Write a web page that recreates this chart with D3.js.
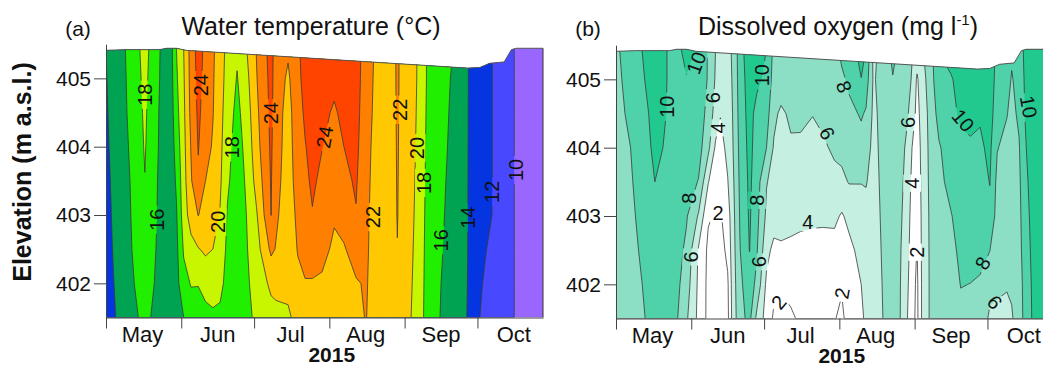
<!DOCTYPE html>
<html>
<head>
<meta charset="utf-8">
<script src="https://cdn.jsdelivr.net/npm/d3@7"></script>
<style>
  body { margin: 0; background: #fff; }
  svg { display: block; font-family: "Liberation Sans", Arial, sans-serif; }
</style>
</head>
<body>
<svg id="chart" width="1043" height="367"></svg>
<script>
// elevation of each profile row (m a.s.l.), top to bottom
const elevations = [405.45, 405, 404.5, 404, 403.5, 403, 402.5, 402, 401.5];

// water surface
const surfaceDates = ['2015-05-01', '2015-05-09', '2015-05-23', '2015-05-26', '2015-05-30', '2015-06-03',
  '2015-09-27', '2015-10-02', '2015-10-06', '2015-10-12', '2015-10-15', '2015-10-17', '2015-10-28'];
const surfaceElev = [405.41, 405.42, 405.42, 405.44, 405.44, 405.41,
  405.15, 405.16, 405.22, 405.24, 405.42, 405.44, 405.44];

// month ticks
const monthStarts = ['2015-05-01', '2015-06-01', '2015-07-01', '2015-08-01', '2015-09-01', '2015-10-01'];
const yTicks = [402, 403, 404, 405];

// (a) water temperature profiles, one per date, values follow `elevations`
const tempDates = ['2015-05-01', '2015-05-09', '2015-05-17', '2015-05-27', '2015-05-30', '2015-06-02',
  '2015-06-05', '2015-06-08', '2015-06-11', '2015-06-14', '2015-06-17', '2015-06-20', '2015-06-24',
  '2015-06-28', '2015-07-02', '2015-07-08', '2015-07-10', '2015-07-15', '2015-07-19', '2015-07-22',
  '2015-07-25', '2015-07-29', '2015-08-03', '2015-08-07', '2015-08-12', '2015-08-16', '2015-08-21',
  '2015-08-27', '2015-08-29', '2015-09-01', '2015-09-06', '2015-09-10', '2015-09-16', '2015-09-21',
  '2015-09-27', '2015-10-02', '2015-10-07', '2015-10-12', '2015-10-16', '2015-10-23', '2015-10-28'];
const tempValues = [
  [14.0, 13.9, 13.8, 13.7, 13.6, 13.5, 13.4, 13.3, 13.2],
  [16.0, 15.9, 15.8, 15.6, 15.4, 15.3, 15.2, 15.0, 14.8],
  [18.7, 18.5, 18.3, 18.15, 17.95, 17.8, 17.6, 17.2, 16.6],
  [14.4, 14.4, 14.3, 14.3, 14.2, 14.2, 14.1, 14.1, 14.1],
  [18.0, 17.7, 17.3, 16.8, 16.3, 15.8, 15.5, 15.3, 15.2],
  [20.0, 19.8, 19.6, 19.4, 19.2, 19.0, 18.2, 17.4, 16.0],
  [22.8, 22.7, 22.5, 22.1, 21.8, 20.9, 19.3, 18.1, 17.2],
  [24.8, 24.6, 24.35, 24.1, 23.7, 22.05, 19.9, 18.1, 17.0],
  [23.5, 23.4, 23.2, 22.8, 22.0, 21.3, 20.3, 18.8, 17.3],
  [22.3, 22.2, 22.1, 21.8, 21.4, 20.9, 20.0, 19.0, 17.6],
  [21.0, 20.9, 20.7, 20.5, 20.3, 19.9, 19.2, 18.5, 17.6],
  [19.4, 19.2, 18.9, 18.6, 18.3, 17.85, 17.6, 17.4, 17.2],
  [18.3, 17.9, 17.5, 17.2, 17.0, 16.9, 16.8, 16.7, 16.7],
  [20.0, 19.5, 19.0, 18.6, 18.3, 18.05, 17.9, 17.7, 17.5],
  [22.1, 21.9, 21.6, 21.3, 20.7, 19.8, 19.2, 18.8, 18.4],
  [24.8, 24.6, 24.45, 24.3, 24.15, 24.02, 22.4, 20.4, 19.3],
  [22.9, 23.0, 22.9, 22.8, 22.6, 22.3, 21.9, 20.6, 19.4],
  [22.3, 21.7, 21.3, 21.2, 21.1, 21.0, 20.9, 20.5, 19.7],
  [23.6, 23.4, 23.2, 23.0, 22.8, 22.4, 22.1, 21.6, 20.6],
  [25.0, 24.8, 24.3, 23.9, 23.6, 23.2, 22.6, 21.9, 21.0],
  [25.2, 25.0, 24.8, 24.6, 24.3, 23.9, 22.6, 21.9, 21.2],
  [25.0, 24.8, 24.4, 24.05, 23.6, 23.2, 22.8, 21.6, 21.0],
  [25.0, 24.4, 23.8, 23.4, 23.0, 22.3, 21.5, 21.0, 20.6],
  [25.0, 24.8, 24.4, 24.0, 23.6, 22.9, 21.8, 21.2, 20.8],
  [25.0, 24.9, 24.7, 24.5, 24.2, 23.9, 23.0, 21.8, 21.3],
  [23.0, 22.9, 22.8, 22.6, 22.5, 22.4, 22.3, 22.2, 22.1],
  [21.5, 21.4, 21.3, 21.2, 21.1, 21.0, 21.0, 20.9, 20.8],
  [21.4, 21.3, 21.3, 21.2, 21.2, 21.1, 21.1, 21.0, 20.9],
  [22.3, 22.3, 22.25, 22.2, 22.15, 22.1, 21.95, 21.6, 21.2],
  [21.0, 21.0, 21.0, 20.9, 20.8, 20.7, 20.6, 20.5, 20.4],
  [20.05, 20.0, 19.95, 19.9, 19.85, 19.8, 19.75, 19.7, 19.65],
  [18.0, 18.0, 17.9, 17.8, 17.7, 17.6, 17.5, 17.4, 17.3],
  [17.2, 17.0, 16.9, 16.8, 16.6, 16.4, 16.2, 16.0, 15.9],
  [16.0, 15.7, 15.5, 15.3, 15.1, 15.0, 14.9, 14.8, 14.7],
  [14.05, 14.05, 14.04, 14.03, 14.02, 14.01, 14.0, 13.98, 13.95],
  [13.0, 13.0, 13.0, 12.9, 12.9, 12.8, 12.5, 12.2, 12.0],
  [12.02, 12.02, 12.02, 12.02, 12.02, 12.0, 11.6, 11.3, 11.0],
  [11.0, 11.0, 11.0, 11.0, 11.0, 11.0, 10.9, 10.8, 10.7],
  [10.02, 10.02, 10.02, 10.02, 10.02, 10.02, 10.02, 10.02, 10.02],
  [9.0, 9.0, 9.0, 9.0, 9.0, 9.0, 9.0, 9.0, 9.0],
  [8.8, 8.8, 8.8, 8.8, 8.8, 8.8, 8.8, 8.8, 8.8]
];
const tempThresholds = [10, 12, 14, 16, 18, 20, 22, 24];
const tempColors = ['#9966ff', '#4848ff', '#0535e0', '#00a352', '#20ef00', '#c8f500', '#ffc800', '#ff8000', '#ff4400'];
// [date, elevation, text, angle]
const tempLabels = [
  ['2015-05-17', 404.76, '18', -90], ['2015-06-09', 404.90, '24', -90], ['2015-07-08', 404.49, '24', -90],
  ['2015-07-30', 404.14, '24', -80], ['2015-08-30', 404.54, '22', -90], ['2015-06-22', 403.99, '18', -90],
  ['2015-09-06', 403.98, '20', -90], ['2015-05-22', 402.93, '16', -90], ['2015-06-16', 402.90, '20', -90],
  ['2015-08-19', 402.97, '22', -90], ['2015-09-09', 403.47, '18', -90], ['2015-09-16', 402.63, '16', -90],
  ['2015-09-27', 402.96, '14', -90], ['2015-10-07', 403.34, '12', -90], ['2015-10-17', 403.66, '10', -90]
];

// (b) dissolved oxygen profiles
const oxyDates = ['2015-05-01', '2015-05-07', '2015-05-13', '2015-05-17', '2015-05-22', '2015-05-26',
  '2015-05-30', '2015-06-04', '2015-06-08', '2015-06-11', '2015-06-13', '2015-06-16', '2015-06-18',
  '2015-06-21', '2015-06-25', '2015-06-28', '2015-07-02', '2015-07-05', '2015-07-08', '2015-07-12',
  '2015-07-16', '2015-07-21', '2015-07-25', '2015-07-30', '2015-08-02', '2015-08-05', '2015-08-10',
  '2015-08-12', '2015-08-15', '2015-08-19', '2015-08-23', '2015-08-26', '2015-08-29', '2015-08-31',
  '2015-09-02', '2015-09-04', '2015-09-07', '2015-09-11', '2015-09-16', '2015-09-20', '2015-09-24',
  '2015-09-28', '2015-10-02', '2015-10-05', '2015-10-09', '2015-10-11', '2015-10-14', '2015-10-16',
  '2015-10-20', '2015-10-28'];
const oxyValues = [
  [7.8, 7.7, 7.6, 7.5, 7.4, 7.3, 7.2, 7.1, 7.0],
  [8.6, 8.45, 8.25, 8.0, 7.8, 7.6, 7.4, 7.2, 7.0],
  [10.4, 10.05, 9.6, 9.4, 9.1, 8.8, 8.5, 8.2, 8.0],
  [11.2, 11.0, 10.7, 10.4, 10.0, 9.6, 9.3, 9.0, 8.8],
  [10.0, 10.0, 9.95, 9.8, 9.6, 9.4, 9.2, 9.0, 8.8],
  [9.5, 9.4, 9.3, 9.2, 9.1, 9.0, 8.8, 8.5, 8.2],
  [10.6, 9.9, 9.6, 9.3, 8.9, 8.2, 7.6, 7.0, 6.3],
  [9.8, 9.5, 9.2, 8.8, 7.9, 5.8, 3.8, 3.6, 3.5],
  [7.8, 7.8, 7.3, 6.5, 4.1, 2.2, 1.6, 1.5, 1.5],
  [6.0, 5.8, 5.2, 3.7, 2.6, 1.8, 1.2, 1.0, 1.0],
  [5.2, 5.0, 4.1, 3.3, 2.5, 1.8, 1.2, 1.0, 1.0],
  [5.5, 5.4, 5.0, 4.5, 3.9, 3.0, 2.5, 1.7, 1.5],
  [6.2, 6.1, 6.0, 5.8, 5.5, 5.2, 5.0, 4.8, 4.6],
  [9.0, 8.9, 8.7, 8.5, 8.3, 8.1, 7.9, 7.6, 7.4],
  [11.5, 11.0, 10.8, 10.6, 10.4, 10.25, 10.05, 9.0, 8.5],
  [11.0, 10.5, 9.3, 9.1, 8.9, 8.6, 8.2, 7.5, 5.5],
  [10.0, 9.5, 8.8, 8.0, 6.1, 5.6, 4.6, 3.6, 3.2],
  [7.5, 7.2, 6.5, 5.8, 5.4, 4.9, 3.5, 2.5, 1.7],
  [7.6, 7.3, 5.6, 5.3, 5.1, 4.8, 3.7, 2.2, 1.5],
  [7.4, 7.1, 6.4, 5.7, 5.3, 4.6, 3.6, 2.4, 1.8],
  [7.5, 7.2, 6.5, 5.6, 5.2, 4.5, 3.4, 2.6, 2.2],
  [7.6, 7.3, 6.05, 5.5, 5.1, 4.4, 3.3, 2.5, 2.1],
  [7.5, 7.2, 6.4, 5.7, 5.2, 4.3, 3.4, 2.4, 2.1],
  [7.3, 7.1, 6.8, 6.3, 5.5, 4.4, 3.3, 2.5, 2.1],
  [8.6, 7.6, 6.9, 6.5, 5.6, 3.8, 3.0, 2.2, 1.6],
  [9.0, 8.4, 7.5, 7.0, 6.1, 4.5, 3.5, 3.0, 2.8],
  [10.8, 9.95, 8.2, 7.3, 6.05, 5.3, 4.6, 4.0, 3.4],
  [9.98, 9.0, 7.8, 6.8, 6.1, 5.5, 5.1, 4.8, 4.6],
  [5.5, 5.8, 5.6, 5.5, 5.4, 5.3, 5.2, 5.1, 5.0],
  [6.8, 6.7, 6.6, 6.5, 6.4, 6.3, 6.2, 6.1, 6.02],
  [8.6, 7.9, 7.4, 7.2, 7.0, 6.9, 6.8, 6.6, 6.5],
  [7.6, 7.0, 6.8, 6.7, 6.6, 6.4, 6.2, 6.1, 6.05],
  [7.0, 6.7, 6.2, 5.6, 5.2, 4.9, 4.6, 4.3, 4.05],
  [6.1, 5.8, 5.2, 3.95, 3.5, 3.2, 3.0, 2.8, 2.6],
  [5.4, 3.7, 3.3, 3.0, 2.8, 2.5, 1.9, 1.6, 1.5],
  [5.8, 5.3, 4.8, 4.5, 4.4, 4.3, 4.3, 4.2, 4.2],
  [6.8, 6.6, 6.4, 6.3, 6.2, 6.1, 6.05, 6.02, 6.02],
  [10.05, 9.6, 8.7, 7.8, 7.5, 7.3, 7.2, 7.1, 7.0],
  [11.0, 9.8, 9.5, 9.0, 8.6, 7.9, 7.5, 7.2, 7.0],
  [11.2, 10.8, 10.3, 9.6, 9.2, 8.8, 8.4, 8.05, 7.6],
  [11.3, 11.0, 10.4, 9.8, 9.3, 8.9, 8.5, 7.98, 7.5],
  [11.3, 11.0, 10.2, 9.7, 9.4, 9.1, 8.5, 7.8, 7.4],
  [11.5, 11.2, 10.8, 10.4, 10.05, 9.6, 8.02, 6.7, 5.6],
  [9.4, 9.2, 8.9, 8.1, 7.5, 7.2, 6.9, 6.4, 5.5],
  [9.3, 9.0, 8.1, 7.4, 7.1, 6.9, 6.7, 6.2, 5.3],
  [8.5, 7.8, 7.4, 7.2, 7.0, 6.8, 6.6, 6.3, 5.8],
  [9.3, 9.0, 8.4, 7.8, 7.5, 7.3, 7.2, 7.1, 7.0],
  [10.1, 9.98, 9.9, 9.7, 9.4, 9.1, 8.8, 8.4, 8.3],
  [11.0, 11.0, 11.0, 10.9, 10.8, 10.7, 10.6, 10.5, 10.4],
  [11.2, 11.2, 11.1, 11.1, 11.0, 11.0, 11.0, 10.9, 10.9]
];
const oxyThresholds = [2, 4, 6, 8, 10];
const oxyColors = ['#ffffff', '#ffffff', '#c5efe1', '#8cdec5', '#4fd2a9', '#22c98f'];
const oxyLabels = [
  ['2015-06-03', 405.24, '10', -70], ['2015-05-22', 404.60, '10', -90], ['2015-06-10', 404.73, '6', -90],
  ['2015-06-12', 404.29, '4', -90], ['2015-06-12', 403.04, '2', 0], ['2015-05-31', 403.26, '8', -90],
  ['2015-06-01', 402.40, '6', -90], ['2015-06-30', 405.06, '10', -90], ['2015-06-28', 403.23, '8', -90],
  ['2015-06-29', 402.33, '6', -90], ['2015-07-27', 404.21, '6', 60], ['2015-08-03', 404.89, '8', 70],
  ['2015-07-19', 402.91, '4', 0], ['2015-07-07', 401.74, '2', -50], ['2015-08-02', 401.87, '2', -80],
  ['2015-08-29', 404.37, '6', -90], ['2015-08-31', 403.48, '4', -90], ['2015-09-02', 402.47, '2', -90],
  ['2015-09-21', 404.40, '10', 50], ['2015-09-29', 402.31, '8', -60], ['2015-10-04', 401.74, '6', 50],
  ['2015-10-18', 404.60, '10', 80]
];

const parse = d3.utcParse('%Y-%m-%d');
const svg = d3.select('#chart');
const pxPerMetre = 68.33;
const plotWidth = 437;

function drawPanel(cfg) {
  const x = d3.scaleUtc()
              .domain([parse('2015-05-01'), parse('2015-10-28')])
              .range([cfg.left, cfg.left + plotWidth]);
  const y = d3.scaleLinear()
              .domain([401.5, 405.5])
              .range([cfg.bottom, cfg.bottom - 4 * pxPerMetre]);
  const g = svg.append('g');

  // grid index -> pixel, piecewise along the profile dates / elevations
  const n = cfg.dates.length;
  const m = elevations.length;
  const colX = d3.scaleLinear().domain(d3.range(n)).range(cfg.dates.map(d => x(parse(d)))).clamp(true);
  const rowY = d3.scaleLinear().domain(d3.range(m)).range(elevations.map(y)).clamp(true);
  const grid = new Array(n * m);
  for (let j = 0; j < m; j++) {
    for (let i = 0; i < n; i++) grid[j * n + i] = cfg.values[i][j];
  }
  const contours = d3.contours().size([n, m]).thresholds(cfg.thresholds)(grid);
  const path = d3.geoPath(d3.geoTransform({
    point(px, py) { this.stream.point(colX(px - 0.5), rowY(py - 0.5)); }
  }));

  // water body outline
  const surface = surfaceDates.map((d, i) => [x(parse(d)), y(surfaceElev[i])]);
  const water = surface.concat([[x.range()[1], cfg.bottom], [cfg.left, cfg.bottom]]);
  const clipId = 'clip-' + cfg.id;
  g.append('clipPath').attr('id', clipId)
   .append('path').attr('d', d3.line()(water) + 'Z');

  const body = g.append('g').attr('clip-path', `url(#${clipId})`);
  body.append('rect')
      .attr('x', cfg.left).attr('y', 0)
      .attr('width', plotWidth).attr('height', cfg.bottom)
      .attr('fill', cfg.colors[0]);
  body.selectAll('path.fill')
      .data(contours)
      .enter().append('path')
      .attr('class', 'fill')
      .attr('d', path)
      .attr('fill', (d, i) => cfg.colors[i + 1]);

  // lines, broken under the labels
  const maskId = 'mask-' + cfg.id;
  const mask = g.append('mask').attr('id', maskId).attr('maskUnits', 'userSpaceOnUse')
                .attr('x', 0).attr('y', 0).attr('width', 1043).attr('height', 367);
  mask.append('rect').attr('width', 1043).attr('height', 367).attr('fill', '#fff');
  const fs = 20;
  cfg.labels.forEach(l => {
    const w = l[2].length * fs * 0.56 + 6;
    mask.append('rect')
        .attr('transform', `translate(${x(parse(l[0]))},${y(l[1])}) rotate(${l[3]})`)
        .attr('x', -w / 2).attr('y', -fs * 0.45)
        .attr('width', w).attr('height', fs * 0.9)
        .attr('fill', '#000');
  });
  body.append('g').attr('mask', `url(#${maskId})`)
      .selectAll('path')
      .data(contours)
      .enter().append('path')
      .attr('d', path)
      .attr('fill', 'none')
      .attr('stroke', '#3a3a3a')
      .attr('stroke-width', 0.8);

  g.append('path')
   .attr('d', d3.line()(surface))
   .attr('fill', 'none').attr('stroke', '#555').attr('stroke-width', 1);
  const last = surface[surface.length - 1];
  g.append('path')
   .attr('d', `M${last[0]},${last[1]}V${cfg.bottom}`)
   .attr('stroke', '#333').attr('stroke-width', 1);

  g.selectAll('text.clab')
   .data(cfg.labels)
   .enter().append('text')
   .attr('class', 'clab')
   .attr('transform', d => `translate(${x(parse(d[0]))},${y(d[1])}) rotate(${d[3]})`)
   .attr('text-anchor', 'middle')
   .attr('dy', '0.36em')
   .attr('font-size', fs)
   .attr('fill', '#111')
   .text(d => d[2]);

  // axes
  const yAxis = d3.axisLeft(y).tickValues(yTicks).tickSize(12).tickSizeOuter(0).tickPadding(3)
                  .tickFormat(d3.format('d'));
  g.append('g')
   .attr('transform', `translate(${cfg.left},0)`)
   .call(yAxis)
   .call(a => {
     a.attr('font-size', null).attr('font-family', null);
     a.selectAll('text').attr('font-size', 21).attr('fill', '#111');
     a.selectAll('path, line').attr('stroke', '#444');
   });
  const xAxis = d3.axisBottom(x).tickValues(monthStarts.map(parse)).tickSize(11).tickSizeOuter(0)
                  .tickFormat('');
  g.append('g')
   .attr('transform', `translate(0,${cfg.bottom})`)
   .call(xAxis)
   .call(a => a.selectAll('path, line').attr('stroke', '#444'));
  const monthFmt = d3.utcFormat('%b');
  g.selectAll('text.month')
   .data(monthStarts)
   .enter().append('text')
   .attr('class', 'month')
   .attr('x', d => x(d3.utcDay.offset(parse(d), 15)))
   .attr('y', cfg.bottom + 24)
   .attr('text-anchor', 'middle')
   .attr('font-size', 22)
   .attr('fill', '#111')
   .text(d => monthFmt(parse(d)));
  g.append('text')
   .attr('x', x(parse('2015-08-02')))
   .attr('y', cfg.bottom + 44)
   .attr('text-anchor', 'middle')
   .attr('font-size', 21).attr('font-weight', 'bold')
   .attr('fill', '#111')
   .text('2015');

  // titles
  g.append('text')
   .attr('x', cfg.left - 28).attr('y', 36)
   .attr('text-anchor', 'middle')
   .attr('font-size', 21).attr('fill', '#111')
   .text(cfg.tag);
  const title = g.append('text')
   .attr('x', cfg.titleX).attr('y', 35)
   .attr('text-anchor', 'middle')
   .attr('font-size', 25).attr('fill', '#111');
  title.append('tspan').text(cfg.title);
  if (cfg.unitSup) {
    title.append('tspan').attr('font-size', 15).attr('dy', -10).text(cfg.unitSup);
    title.append('tspan').attr('dy', 10).text(')');
  }
}

drawPanel({
  id: 'temp', left: 106, bottom: 317.5, tag: '(a)', titleX: 311,
  title: 'Water temperature (°C)',
  dates: tempDates, values: tempValues, thresholds: tempThresholds,
  colors: tempColors, labels: tempLabels
});
drawPanel({
  id: 'oxy', left: 616, bottom: 318.5, tag: '(b)', titleX: 838,
  title: 'Dissolved oxygen (mg l', unitSup: '-1',
  dates: oxyDates, values: oxyValues, thresholds: oxyThresholds,
  colors: oxyColors, labels: oxyLabels
});

svg.append('text')
   .attr('transform', 'translate(31,172) rotate(-90)')
   .attr('text-anchor', 'middle')
   .attr('font-size', 25).attr('font-weight', 'bold')
   .attr('fill', '#111')
   .text('Elevation (m a.s.l.)');
</script>
</body>
</html>
